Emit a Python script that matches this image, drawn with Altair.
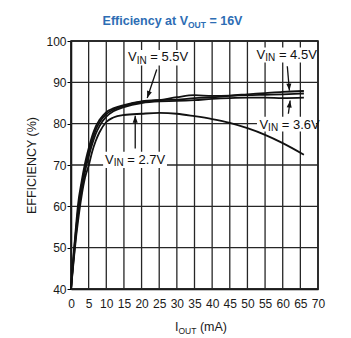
import math
import altair as alt
import pandas as pd

# ---------------- data ----------------
iout = [0, 0.5, 1, 1.5, 2, 3, 4, 5, 6, 7, 8, 10, 12, 15, 20, 25, 30, 35, 40, 45, 50, 55, 60, 66]
eff_55 = [40, 46, 51, 56, 60.5, 66, 70.5, 74, 77, 79.3, 80.8, 82.8, 83.7, 84.5, 85.4, 85.7, 85.8, 86.2, 86.4, 86.7, 86.9, 87.0, 87.1, 87.3]
eff_45 = [40, 45.5, 50.5, 55, 59, 65, 69.5, 73, 76, 78.5, 80.2, 82.3, 83.4, 84.3, 85.3, 85.7, 86.4, 86.9, 86.7, 86.8, 87.1, 87.4, 87.7, 87.9]
eff_36 = [40, 45, 49.5, 54, 58, 64, 68.5, 72, 75, 77.5, 79.3, 81.7, 83.0, 84.0, 85.0, 85.4, 85.5, 85.7, 86.0, 86.2, 86.3, 86.3, 86.2, 86.3]
eff_27 = [40, 44.5, 49, 53, 56.5, 62.5, 67, 69.8, 73.2, 75.8, 77.8, 80.4, 81.5, 82.1, 82.4, 82.6, 82.4, 81.8, 81.1, 80.2, 78.9, 77.3, 75.3, 72.5]
series_names = ["5.5V", "4.5V", "3.6V", "2.7V"]
series_vals = [eff_55, eff_45, eff_36, eff_27]

x_ticks = list(range(0, 75, 5))
y_ticks = list(range(40, 110, 10))
x_range = [0, 70]
y_range = [40, 100]

# annotations (data coordinates)
label_rest = ["= 5.5V", "= 4.5V", "= 3.6V", "= 2.7V"]
label_x = [16.16, 52.6, 53.4, 9.64]
label_y = [95.1, 95.7, 78.7, 70.3]
box_x1 = [15.6, 52.0, 52.7, 9.1]
box_x2 = [33.7, 69.6, 69.4, 27.2]
box_y1 = [97.8, 98.4, 81.7, 73.2]
box_y2 = [94.1, 94.8, 78.1, 69.3]
arrow_x1 = [24.3, 61.3, 61.6, 18.2]
arrow_y1 = [93.1, 93.9, 82.4, 74.0]
arrow_x2 = [21.6, 61.9, 62.1, 18.2]
arrow_y2 = [86.2, 88.0, 85.6, 81.9]

# ---------------- helpers ----------------
W_REG = {" ": 278, "(": 333, ")": 333, "=": 584, ".": 278, "V": 667, "I": 278, "N": 722,
         "O": 778, "U": 722, "T": 611, "m": 833, "A": 667}
for d in "0123456789":
    W_REG[d] = 556
W_BOLD = {"E": 667, "f": 333, "i": 278, "c": 556, "e": 556, "n": 611, "y": 556, "a": 556,
          "t": 333, " ": 278, "V": 667, "O": 778, "U": 722, "T": 611, "=": 584,
          "1": 556, "6": 556}


def tw(s, size, table):
    return sum(table.get(ch, 556) for ch in s) * size / 1000.0


FONT = "Liberation Sans, Arial, Helvetica, sans-serif"
PX_X = 247 / 70.0
PX_Y = 248 / 60.0

rows = []
for name, vals in zip(series_names, series_vals):
    for i, v in zip(iout, vals):
        rows.append({"iout": i, "eff": v, "vin": name})
curves = pd.DataFrame(rows)

ann = pd.DataFrame({
    "lx": label_x, "ly": label_y, "rest": label_rest,
    "bx1": box_x1, "bx2": box_x2, "by1": box_y1, "by2": box_y2,
    "ax1": arrow_x1, "ay1": arrow_y1, "ax2": arrow_x2, "ay2": arrow_y2,
})
ann["ang"] = [
    (math.degrees(math.atan2(-(x2 - x1) * PX_X, -(y2 - y1) * PX_Y)) + 360) % 360
    for x1, y1, x2, y2 in zip(arrow_x1, arrow_y1, arrow_x2, arrow_y2)
]

xs = alt.Scale(domain=x_range, nice=False)
ys = alt.Scale(domain=y_range, nice=False)

GRID = "#262626"

# simple axis objects; styling goes to configure_axis*
x_axis = alt.Axis(values=x_ticks, title=None, grid=False)
y_axis = alt.Axis(values=y_ticks, title="EFFICIENCY (%)", grid=False)


def X(f):
    return alt.X(f, scale=xs, axis=x_axis)


def Y(f):
    return alt.Y(f, scale=ys, axis=y_axis)


vgrid = alt.Chart(pd.DataFrame({"t": x_ticks})).mark_rule(color=GRID, strokeWidth=1.3).encode(
    x=X("t:Q"))
hgrid = alt.Chart(pd.DataFrame({"t": y_ticks})).mark_rule(color=GRID, strokeWidth=1.3).encode(
    y=Y("t:Q"))

base_ann = alt.Chart(ann)

boxes = base_ann.mark_rect(color="white").encode(
    x=X("bx1:Q"), x2="bx2:Q", y=Y("by1:Q"), y2="by2:Q",
)

lines = alt.Chart(curves).mark_line(color="#111", strokeWidth=1.8, interpolate="monotone").encode(
    x=X("iout:Q"), y=Y("eff:Q"), detail="vin:N",
)

rules = base_ann.mark_rule(color="#111", strokeWidth=1.3).encode(
    x=X("ax1:Q"), y=Y("ay1:Q"), x2="ax2:Q", y2="ay2:Q"
)

heads = base_ann.mark_point(shape="M0,0L-0.36,-1L0.36,-1Z", size=196, filled=True,
                            color="#111", opacity=1, strokeWidth=0).encode(
    x=X("ax2:Q"), y=Y("ay2:Q"), angle=alt.Angle("ang:Q", scale=None),
)

LBL = 13
SUB = 10
w_v = tw("V", LBL, W_REG)
w_in = tw("IN", SUB, W_REG)
w_sp = tw(" ", LBL, W_REG)

t_v = base_ann.mark_text(align="left", baseline="alphabetic", fontSize=LBL, font=FONT,
                         color="#111").encode(x=X("lx:Q"), y=Y("ly:Q"), text=alt.value("V"))
t_in = base_ann.mark_text(align="left", baseline="alphabetic", fontSize=SUB, font=FONT,
                          color="#111", dx=w_v, dy=2.4).encode(
    x=X("lx:Q"), y=Y("ly:Q"), text=alt.value("IN"))
t_rest = base_ann.mark_text(align="left", baseline="alphabetic", fontSize=LBL, font=FONT,
                            color="#111", dx=w_v + w_in + w_sp).encode(
    x=X("lx:Q"), y=Y("ly:Q"), text="rest:N")

# title pieces: "Efficiency at V" + sub "OUT" + " = 16V"
one = pd.DataFrame({"k": [0]})
T_MAIN, T_SUB = 12.5, 8.5
tp = ["Efficiency at V", "OUT", "= 16V"]
tsz = [T_MAIN, T_SUB, T_MAIN]
tws = [tw(s, z, W_BOLD) for s, z in zip(tp, tsz)]
tws[1] += tw(" ", T_MAIN, W_BOLD)
t_start = 101.5 - sum(tws) / 2
t_layers = []
off = t_start
for s, z, w, dy in zip(tp, tsz, tws, [0, 3, 0]):
    t_layers.append(alt.Chart(one).mark_text(align="left", baseline="alphabetic", fontSize=z,
                                             font=FONT, fontWeight="bold", color="#2d6db4").encode(
        x=alt.value(off), y=alt.value(-16 + dy), text=alt.value(s)))
    off += w

# x axis title: "I" + sub "OUT" + " (mA)"
xp = ["I", "OUT", "(mA)"]
xsz = [12.5, 8.5, 12.5]
xws = [tw(s, z, W_REG) for s, z in zip(xp, xsz)]
xws[1] += tw(" ", 12.5, W_REG)
off = 104
x_layers = []
for s, z, w, dy in zip(xp, xsz, xws, [0, 3, 0]):
    x_layers.append(alt.Chart(one).mark_text(align="left", baseline="alphabetic", fontSize=z,
                                             font=FONT, color="#1a1a1a").encode(
        x=alt.value(off), y=alt.value(290 + dy), text=alt.value(s)))
    off += w

chart = alt.layer(vgrid, hgrid, boxes, lines, rules, heads, t_v, t_in, t_rest,
                  *t_layers, *x_layers).properties(
    width=247, height=248,
    autosize=alt.AutoSizeParams(type="none"),
    padding={"left": 71, "top": 41, "right": 33, "bottom": 49},
    background="white",
).configure_view(
    stroke="#000", strokeWidth=1.5
).configure_axis(
    domainColor="#000", domainWidth=1.5, labelFontSize=12, labelFont=FONT,
    labelColor="#1a1a1a", labelFlush=False, labelOverlap=False,
).configure_axisX(
    tickSize=0, labelPadding=9,
).configure_axisY(
    tickSize=4, tickColor="#000", labelPadding=1,
    titleFont=FONT, titleFontSize=12.5, titleFontWeight="normal",
    titleColor="#1a1a1a", titleX=-40, titleY=124, titleAngle=270,
    titleAlign="center", titleBaseline="middle",
)

chart.save("out.html", embed_options={"renderer": "svg", "actions": False})
